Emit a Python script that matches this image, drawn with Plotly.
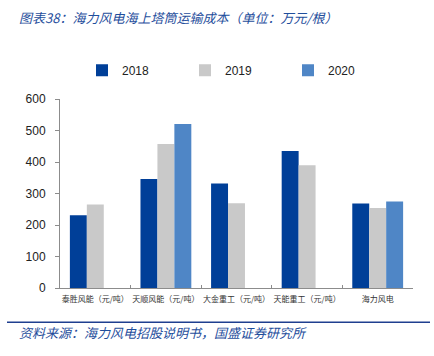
import plotly.graph_objects as go

categories = ["泰胜风能（元/吨）", "天顺风能（元/吨）", "大金重工（元/吨）", "天能重工（元/吨）", "海力风电"]
v2018 = [231, 346, 332, 435, 268]
v2019 = [265, 457, 269, 390, 254]
v2020 = [None, 521, None, None, 275]
series_names = ["2018", "2019", "2020"]
colors = ["#003f98", "#c9c9c9", "#4f86c6"]
y_ticks = [0, 100, 200, 300, 400, 500, 600]

fig = go.Figure()
for name, vals, col in zip(series_names, [v2018, v2019, v2020], colors):
    fig.add_trace(go.Bar(x=categories, y=vals, name=name, marker_color=col,
                         marker_line_width=0))

title_color = "#1f4e9c"
cjk = "Noto Sans CJK SC"
PW, PH, L, T = 353, 190, 60, 99


def px(xp):
    return (xp - L) / PW


def py(yp):
    return (T + PH - yp) / PH


fig.update_layout(
    width=434, height=356,
    margin=dict(l=60, r=21, t=99, b=68),
    paper_bgcolor="white", plot_bgcolor="white",
    barmode="group", bargap=0.28, bargroupgap=0,
    showlegend=True,
    legend=dict(orientation="h", xref="paper", yref="paper",
                x=px(82), y=py(70), xanchor="left", yanchor="middle",
                entrywidth=58, entrywidthmode="pixels",
                font=dict(family="Liberation Sans", size=12, color="#222222"),
                bgcolor="rgba(0,0,0,0)"),
    font=dict(family=cjk, color="#222222"),
    xaxis=dict(showline=True, linecolor="#8c8c8c", linewidth=1,
               ticks="inside", ticklen=3, tickcolor="#8c8c8c",
               tickson="boundaries", showgrid=False, tickangle=0,
               ticklabelstandoff=3,
               tickfont=dict(family=cjk, size=8, color="#333333")),
    yaxis=dict(range=[0, 600], tickvals=y_ticks, showline=True,
               linecolor="#8c8c8c", linewidth=1, ticks="outside", ticklen=4,
               tickcolor="#8c8c8c", showgrid=False, zeroline=False,
               ticklabelstandoff=7,
               tickfont=dict(family="Liberation Sans", size=12, color="#222222")),
)

fig.add_annotation(xref="paper", yref="paper", x=px(17), y=py(17),
                   yanchor="middle", xanchor="left", showarrow=False,
                   text="<i>图表38：海力风电海上塔筒运输成本（单位：万元/根）</i>",
                   font=dict(family=cjk, size=13, color=title_color))
fig.add_annotation(xref="paper", yref="paper", x=px(17), y=py(334),
                   xanchor="left", yanchor="middle", showarrow=False,
                   text="<i>资料来源：海力风电招股说明书，国盛证券研究所</i>",
                   font=dict(family=cjk, size=13, color=title_color))
fig.add_shape(type="line", xref="paper", yref="paper",
              x0=px(7), x1=px(430), y0=py(323.5), y1=py(323.5),
              line=dict(color="#1f3f8f", width=1.5))

fig.write_html("out.html", config={"displayModeBar": False},
               post_script="document.body.style.margin='0';")
